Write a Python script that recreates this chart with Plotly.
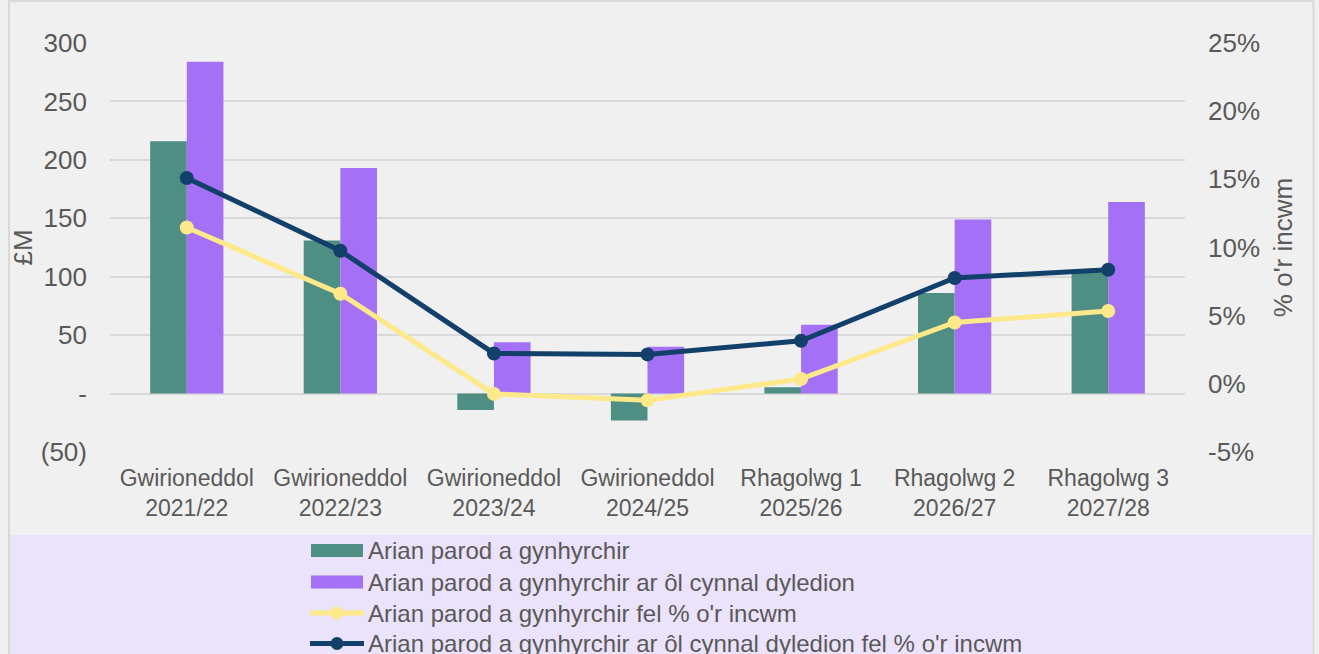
import plotly.graph_objects as go

# ---------------- data ----------------
categories = ["Gwirioneddol<br>2021/22", "Gwirioneddol<br>2022/23", "Gwirioneddol<br>2023/24",
              "Gwirioneddol<br>2024/25", "Rhagolwg 1<br>2025/26", "Rhagolwg 2<br>2026/27",
              "Rhagolwg 3<br>2027/28"]
cash_generated = [216, 131, -14, -23, 5.5, 86, 104]
cash_after_debt = [284, 193, 44, 40, 59, 149, 164]
cash_pct_income = [0.1147, 0.0661, -0.0074, -0.0121, 0.0036, 0.045, 0.0534]
cash_after_debt_pct_income = [0.151, 0.0976, 0.0223, 0.0216, 0.0316, 0.0776, 0.0837]

series_names = ["Arian parod a gynhyrchir",
                "Arian parod a gynhyrchir ar ôl cynnal dyledion",
                "Arian parod a gynhyrchir fel % o'r incwm",
                "Arian parod a gynhyrchir ar ôl cynnal dyledion fel % o'r incwm"]

left_tickvals = [-50, 0, 50, 100, 150, 200, 250, 300]
left_ticktext = ["(50)", "-", "50", "100", "150", "200", "250", "300"]
right_tickvals = [-0.05, 0, 0.05, 0.10, 0.15, 0.20, 0.25]
right_ticktext = ["-5%", "0%", "5%", "10%", "15%", "20%", "25%"]

# ---------------- style ----------------
GREEN = "#4f8e82"
PURPLE = "#a470f5"
YELLOW = "#fee98a"
NAVY = "#12406a"
TEXT = "#595959"
GRID = "#d9d9d9"
BG = "#f0f0f0"
LAV = "#ebe2fc"
FONT = "Liberation Sans, Arial, sans-serif"

W, H = 1319, 654
L, R, T, B = 110, 1185, 43, 452


def px(X):
    return (X - L) / (R - L)


def py(Y):
    return (B - Y) / (B - T)


fig = go.Figure()
fig.add_trace(go.Bar(x=categories, y=cash_generated, name=series_names[0],
                     marker=dict(color=GREEN, line=dict(width=0)), showlegend=False))
fig.add_trace(go.Bar(x=categories, y=cash_after_debt, name=series_names[1],
                     marker=dict(color=PURPLE, line=dict(width=0)), showlegend=False))
fig.add_trace(go.Scatter(x=categories, y=cash_pct_income, name=series_names[2], yaxis="y2",
                         mode="lines+markers", line=dict(color=YELLOW, width=5),
                         marker=dict(color=YELLOW, size=14), showlegend=False))
fig.add_trace(go.Scatter(x=categories, y=cash_after_debt_pct_income, name=series_names[3], yaxis="y2",
                         mode="lines+markers", line=dict(color=NAVY, width=5),
                         marker=dict(color=NAVY, size=14), showlegend=False))

shapes = []
annotations = []
# outer chart border and legend panel
shapes.append(dict(type="rect", xref="paper", yref="paper", x0=px(10), x1=px(1312.5),
                   y0=py(535), y1=py(700), fillcolor=LAV, line=dict(width=0), layer="below"))
shapes.append(dict(type="rect", xref="paper", yref="paper", x0=px(9), x1=px(1313.5),
                   y0=py(700), y1=py(1), fillcolor="rgba(0,0,0,0)",
                   line=dict(color=GRID, width=2), layer="below"))

# custom legend
rows = [550.5, 582, 613, 643.5]
sx0, sx1 = 311, 363
for i, name in enumerate(series_names):
    yc = rows[i]
    if i < 2:
        col = GREEN if i == 0 else PURPLE
        shapes.append(dict(type="rect", xref="paper", yref="paper", x0=px(sx0), x1=px(sx1),
                           y0=py(yc + 6.5), y1=py(yc - 6.5), fillcolor=col, line=dict(width=0)))
    else:
        col = YELLOW if i == 2 else NAVY
        shapes.append(dict(type="line", xref="paper", yref="paper", x0=px(sx0 - 1), x1=px(sx1 + 1),
                           y0=py(yc), y1=py(yc), line=dict(color=col, width=5)))
        mc = (sx0 + sx1) / 2
        shapes.append(dict(type="circle", xref="paper", yref="paper", x0=px(mc - 6.5), x1=px(mc + 6.5),
                           y0=py(yc + 6.5), y1=py(yc - 6.5), fillcolor=col, line=dict(width=0)))
    annotations.append(dict(text=name, xref="paper", yref="paper", x=px(366), y=py(yc),
                            xanchor="left", yanchor="middle", showarrow=False,
                            font=dict(family=FONT, size=24, color=TEXT)))

fig.update_layout(
    width=W, height=H,
    margin=dict(l=L, r=W - R, t=T, b=H - B, pad=0),
    paper_bgcolor=BG, plot_bgcolor=BG,
    barmode="group", bargap=0.523, bargroupgap=0,
    font=dict(family=FONT, color=TEXT),
    shapes=shapes, annotations=annotations,
    xaxis=dict(showgrid=False, showline=False, zeroline=False, ticks="",
               tickfont=dict(family=FONT, size=23, color=TEXT), ticklabelstandoff=10),
    yaxis=dict(range=[-50, 300], tickvals=left_tickvals, ticktext=left_ticktext,
               showgrid=True, gridcolor=GRID, gridwidth=2, zeroline=False, showline=False,
               ticks="", ticklabelstandoff=22,
               tickfont=dict(family=FONT, size=26, color=TEXT),
               title=dict(text="£M", font=dict(family=FONT, size=26, color=TEXT), standoff=0)),
    yaxis2=dict(range=[-0.05, 0.25], tickvals=right_tickvals, ticktext=right_ticktext,
                overlaying="y", side="right", showgrid=False, zeroline=False, showline=False,
                ticks="", ticklabelstandoff=22,
                tickfont=dict(family=FONT, size=26, color=TEXT),
                title=dict(text="% o'r incwm", font=dict(family=FONT, size=26, color=TEXT), standoff=14)),
)

fig.write_html("out.html", config={"displayModeBar": False},
               post_script="document.body.style.margin='0';document.body.style.overflow='hidden';")
